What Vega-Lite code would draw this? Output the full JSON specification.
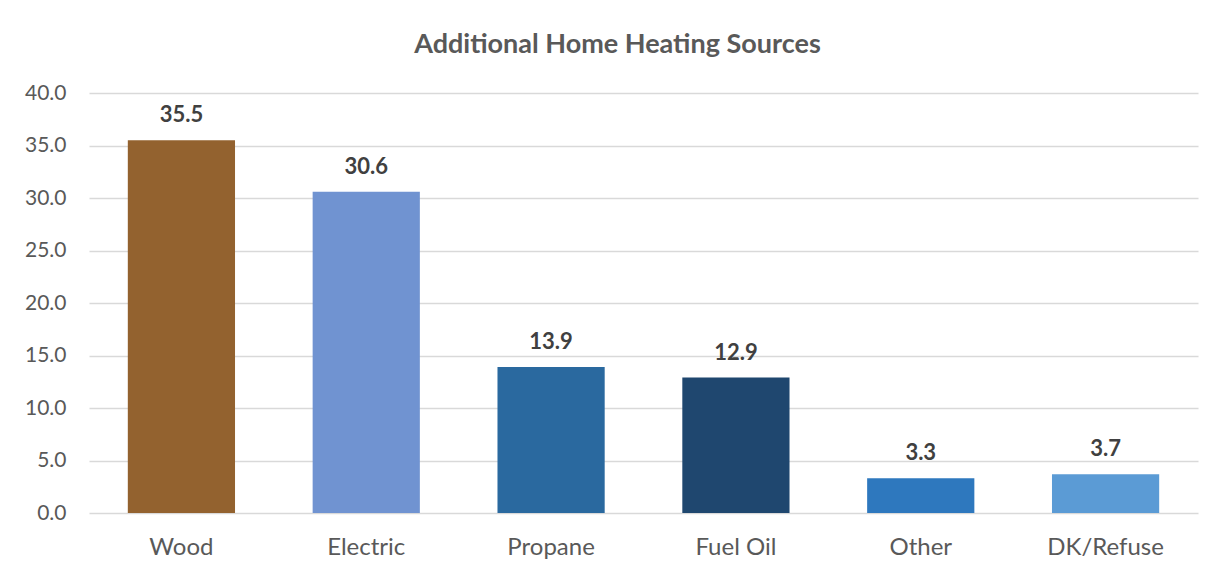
{
  "$schema": "https://vega.github.io/schema/vega-lite/v6.json",
  "autosize": {"type": "none"},
  "padding": {"left": 89, "top": 93, "right": 27, "bottom": 66},
  "width": 1109,
  "height": 420,
  "background": "white",
  "title": {
    "text": "Additional Home Heating Sources",
    "font": "Lato",
    "fontSize": 27,
    "fontWeight": "bold",
    "color": "#595959",
    "anchor": "middle",
    "dx": -26,
    "offset": 23
  },
  "data": {
    "values": [
      {"source": "Wood", "value": 35.5, "color": "#93622F"},
      {"source": "Electric", "value": 30.6, "color": "#7093D1"},
      {"source": "Propane", "value": 13.9, "color": "#2A699F"},
      {"source": "Fuel Oil", "value": 12.9, "color": "#1F476F"},
      {"source": "Other", "value": 3.3, "color": "#2E78BE"},
      {"source": "DK/Refuse", "value": 3.7, "color": "#5B9BD5"}
    ]
  },
  "encoding": {
    "x": {
      "field": "source",
      "type": "nominal",
      "sort": null,
      "scale": {"paddingInner": 0.42, "paddingOuter": 0.21},
      "axis": {
        "title": null,
        "labelAngle": 0,
        "domain": false,
        "ticks": false,
        "labelFont": "Lato",
        "labelFontSize": 24,
        "labelColor": "#595959",
        "labelPadding": 22
      }
    },
    "y": {
      "field": "value",
      "type": "quantitative",
      "scale": {"domain": [0, 40], "nice": false},
      "axis": {
        "title": null,
        "values": [0, 5, 10, 15, 20, 25, 30, 35, 40],
        "format": ".1f",
        "domain": false,
        "ticks": false,
        "labelOverlap": false,
        "gridColor": "#D9D9D9",
        "gridWidth": 1.5,
        "labelFont": "Lato",
        "labelFontSize": 21,
        "labelColor": "#595959",
        "labelPadding": 23
      }
    }
  },
  "layer": [
    {
      "mark": {"type": "bar"},
      "encoding": {
        "color": {"field": "color", "type": "nominal", "scale": null}
      }
    },
    {
      "mark": {
        "type": "text",
        "baseline": "middle",
        "dy": -25,
        "font": "Lato",
        "fontSize": 22,
        "fontWeight": "bold",
        "color": "#404040"
      },
      "encoding": {
        "text": {"field": "value", "type": "quantitative", "format": ".1f"}
      }
    }
  ],
  "config": {"view": {"stroke": null}}
}
